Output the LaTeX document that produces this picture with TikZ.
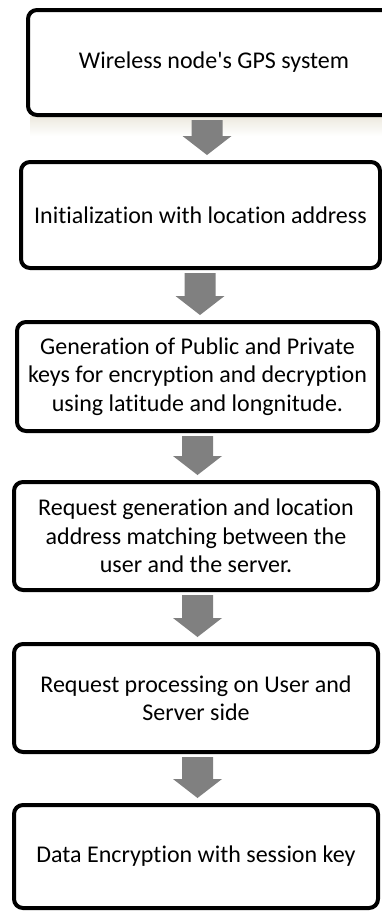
\documentclass[tikz,border=0pt]{standalone}
\usepackage{fontspec}
\setmainfont{Carlito}[Ligatures={TeXOff,NoCommon}]
\usetikzlibrary{calc}
\definecolor{arrowgray}{RGB}{128,128,128}
\definecolor{shadowbeige}{RGB}{236,233,222}
\begin{document}
\begin{tikzpicture}[x=1pt,y=-1pt,
  stepbox/.style={draw=black, line width=4pt, rounded corners=9pt, fill=white,
    align=center, font=\fontsize{24}{28.5}\selectfont, inner sep=0pt},
  blockarrow/.style={to path={let \p1=(\tikztostart), \p2=(\tikztotarget) in
    (\x1-15.5pt,\y1-3pt) -- (\x1+15.5pt,\y1-3pt) -- (\x1+15.5pt,\y2+24pt)
    -- (\x1+24.5pt,\y2+24pt) -- (\x1,\y2+5pt) -- (\x1-24.5pt,\y2+24pt)
    -- (\x1-15.5pt,\y2+24pt) -- cycle}},
  arrowfill/.style={fill=arrowgray}]
\clip (0,0) rectangle (382,911);
\fill[white] (0,0) rectangle (382,911);
% boxes
\shade[top color=shadowbeige, bottom color=white] (30,116) rectangle (382,136);
\node[stepbox, minimum width=372pt, minimum height=105pt] (b1) at (214,62.5) {Wireless node's GPS system};
\node[stepbox, minimum width=359pt, minimum height=106pt] (b2) at (200.5,215) {Initialization with location address};
\node[stepbox, minimum width=361pt, minimum height=109pt] (b3) at (197.5,376.5) {Generation of Public and Private\\keys for encryption and decryption\\using latitude and longnitude.};
\node[stepbox, minimum width=364pt, minimum height=108pt] (b4) at (196,536) {Request generation and location\\address matching between the\\user and the server.};
\node[stepbox, minimum width=364pt, minimum height=108pt] (b5) at (196,698) {Request processing on User and\\Server side};
\node[stepbox, minimum width=364pt, minimum height=103pt] (b6) at (196,856.5) {Data Encryption with session key};
% arrows
\coordinate (a1s) at (207,0 |- b1.south);
\coordinate (a1e) at (207,0 |- b2.north);
\coordinate (a2s) at (200,0 |- b2.south);
\coordinate (a2e) at (200,0 |- b3.north);
\coordinate (a3s) at (197.5,0 |- b3.south);
\coordinate (a3e) at (197.5,0 |- b4.north);
\coordinate (a4s) at (197.5,0 |- b4.south);
\coordinate (a4e) at (197.5,0 |- b5.north);
\coordinate (a5s) at (197.5,0 |- b5.south);
\coordinate (a5e) at (197.5,0 |- b6.north);
\fill[arrowfill] (a1s) to[blockarrow] (a1e);
\fill[arrowfill] (a2s) to[blockarrow] (a2e);
\fill[arrowfill] (a3s) to[blockarrow] (a3e);
\fill[arrowfill] (a4s) to[blockarrow] (a4e);
\fill[arrowfill] (a5s) to[blockarrow] (a5e);
\end{tikzpicture}
\end{document}
